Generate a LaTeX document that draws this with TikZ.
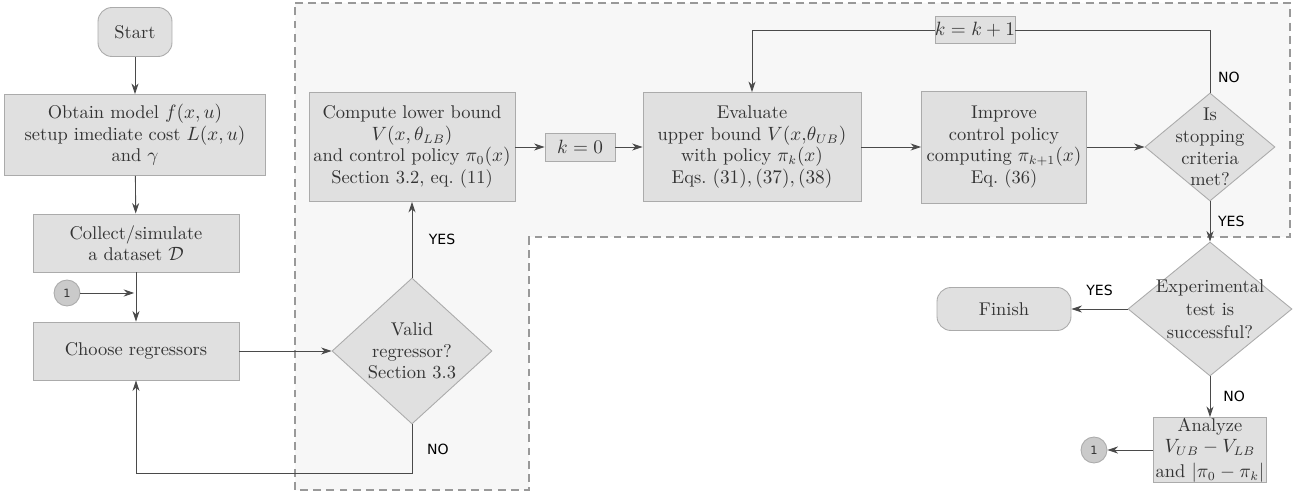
\documentclass[tikz,border=0pt]{standalone}
\usepackage{amsmath,amssymb}
\usepackage{fontspec}
\newfontfamily\answerfont{DejaVu Sans}
\usetikzlibrary{shapes.geometric,arrows.meta}
\definecolor{boxfill}{HTML}{E0E0E0}
\definecolor{boxline}{HTML}{ABABAB}
\definecolor{areafill}{HTML}{F7F7F7}
\definecolor{wire}{HTML}{4A4A4A}
\definecolor{ink}{HTML}{333333}

\begin{document}
\begin{tikzpicture}[x=0.02cm,y=-0.02cm,line width=0.5pt,font=\fontsize{10.5}{12.3}\selectfont,text=ink,
  box/.style={draw=boxline,fill=boxfill,inner sep=0pt,align=center},
  term/.style={box,rounded corners=8pt},
  decision/.style={box,diamond,inner sep=-12pt},
  conn/.style={draw=wire,-{Stealth[length=6pt,width=4pt]}},
  answer/.style={font=\answerfont\fontsize{8}{9}\selectfont,text=black},
  onpage/.style={draw=boxline,fill=boxfill!90!black,circle,inner sep=0pt,minimum size=0.52cm,font=\answerfont\fontsize{6.5}{7}\selectfont}]
\path[use as bounding box] (0,0) rectangle (1296,493);
% dashed area of the iteration
\draw[fill=areafill,draw=gray!80,line width=0.6pt,dash pattern=on 4.5pt off 3pt]
  (295,3) -- (1290,3) -- (1290,237) -- (529,237) -- (529,490) -- (295,490) -- cycle;
% left column
\node[term,minimum width=1.48cm,minimum height=0.98cm] (start) at (135,32) {Start};
\node[box,minimum width=5.22cm,minimum height=1.62cm] (model) at (135,135) {Obtain model $f(x,u)$\\setup imediate cost $L(x,u)$\\and $\gamma$};
\node[box,minimum width=4.12cm,minimum height=1.16cm] (data) at (136,243) {Collect/simulate\\a dataset $\mathcal{D}$};
\node[onpage] (one1) at (67,293) {1};
\node[box,minimum width=4.12cm,minimum height=1.16cm] (choose) at (136,351) {Choose regressors};
% middle
\node[decision,minimum width=3.2cm,minimum height=2.92cm] (valid) at (412,351) {Valid\\regressor?\\Section 3.3};
\node[box,minimum width=4.12cm,minimum height=2.18cm] (lower) at (412,147) {Compute lower bound\\$V(x,\theta_{LB})$\\and control policy $\pi_0(x)$\\Section 3.2, eq.~(11)};
\node[box,minimum width=1.4cm,minimum height=0.56cm] (kzero) at (580,147) {$k=0$};
\node[box,minimum width=4.36cm,minimum height=2.18cm] (upper) at (752,147) {Evaluate\\upper bound $V(x{,}\theta_{UB})$\\with policy $\pi_k(x)$\\Eqs.~$(31),(37),(38)$};
\node[box,minimum width=3.3cm,minimum height=2.24cm] (improve) at (1004,147) {Improve\\control policy\\computing $\pi_{k+1}(x)$\\Eq.~(36)};
\node[decision,minimum width=2.6cm,minimum height=2.16cm] (stop) at (1210,147) {Is\\stopping\\criteria\\met?};
\node[box,minimum width=1.3cm,minimum height=0.54cm] (knext) at (975,30) {$k=k+1$};
% right
\node[decision,minimum width=3.28cm,minimum height=2.68cm,font=\fontsize{10.5}{13}\selectfont] (test) at (1210,309) {Experimental\\test is\\successful?};
\node[term,minimum width=2.68cm,minimum height=0.86cm] (finish) at (1004,309) {Finish};
\node[box,minimum width=2.26cm,minimum height=1.3cm] (analyze) at (1210,450) {Analyze\\$V_{UB}-V_{LB}$\\[1.5pt]and $|\pi_0-\pi_k|$};
\node[onpage] (one2) at (1094,450) {1};
% connectors
\draw[conn] (start) -- (model);
\draw[conn] (model) -- (data);
\draw[conn] (data) -- (choose);
\draw[conn,shorten >=1pt] (one1) -- (one1 -| data.south);
\draw[conn] (choose) -- (valid);
\draw[conn] (valid) -- node[answer,right=6pt]{YES} (lower);
\draw[conn] (valid.south) -- node[answer,right=5pt]{NO} ++(0,49) -| (choose.south);
\draw[conn] (lower) -- (kzero);
\draw[conn] (kzero) -- (upper);
\draw[conn] (upper) -- (improve);
\draw[conn] (improve) -- (stop);
\draw[wire] (stop.north) |- node[answer,pos=0.12,right=1pt]{NO} (knext.east);
\draw[conn] (knext.west) -| (upper.north);
\draw[conn] (stop) -- node[answer,right=1pt]{YES} (test);
\draw[conn] (test) -- node[answer,above=4pt]{YES} (finish);
\draw[conn] (test) -- node[answer,right=4pt]{NO} (analyze);
\draw[conn] (analyze) -- (one2);
\end{tikzpicture}
\end{document}
